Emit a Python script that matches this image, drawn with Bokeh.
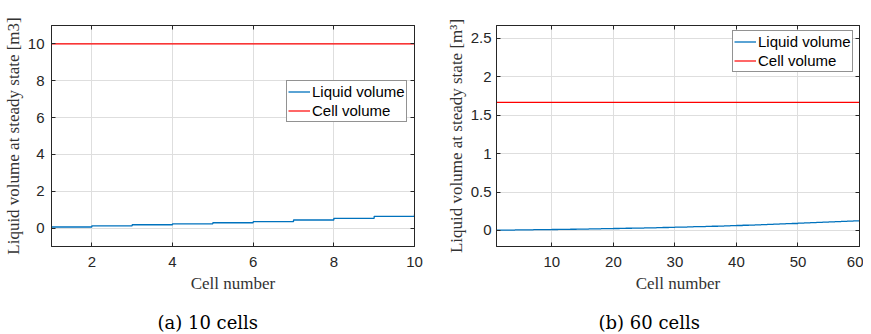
from bokeh.plotting import figure
from bokeh.layouts import row
from bokeh.models import Range1d, FixedTicker, LinearAxis, Legend, LegendItem, Title
from bokeh.embed import file_html
from bokeh.resources import INLINE

# ---- data: 10 cells ----
cells_10 = list(range(1, 11))
liquid_10 = [0.06, 0.12, 0.18, 0.23, 0.29, 0.35, 0.44, 0.53, 0.64, 0.75]
cellvol_10 = [10.0] * 10
xticks_10 = [2, 4, 6, 8, 10]
yticks_10 = [0, 2, 4, 6, 8, 10]
ylabels_10 = ["0", "2", "4", "6", "8", "10"]

# ---- data: 60 cells ----
cells_60 = list(range(1, 61))
liquid_60 = [0.004, 0.005, 0.006, 0.007, 0.008, 0.009, 0.010, 0.011, 0.012, 0.013,
             0.014, 0.015, 0.016, 0.018, 0.019, 0.020, 0.021, 0.023, 0.024, 0.026,
             0.027, 0.029, 0.030, 0.032, 0.033, 0.035, 0.037, 0.039, 0.041, 0.043,
             0.045, 0.047, 0.049, 0.051, 0.053, 0.055, 0.058, 0.060, 0.062, 0.065,
             0.068, 0.070, 0.073, 0.076, 0.079, 0.082, 0.085, 0.088, 0.091, 0.095,
             0.098, 0.101, 0.105, 0.108, 0.112, 0.115, 0.119, 0.122, 0.126, 0.130]
cellvol_60 = [1.6667] * 60
xticks_60 = [10, 20, 30, 40, 50, 60]
yticks_60 = [0, 0.5, 1, 1.5, 2, 2.5]
ylabels_60 = ["0", "0.5", "1", "1.5", "2", "2.5"]

BLUE = "#0072BD"
RED = "#FF0000"
DARK = "#262626"
SANS = "Liberation Sans"
SERIF = "Liberation Serif"


def make(cells, liquid, cellvol, xr, yr, xticks, yticks, ylabels, ylabel,
         mb_left, mb_right, tick_standoff, legend_loc, caption, cap_offset):
    p = figure(output_backend="svg", toolbar_location=None,
               frame_width=363, frame_height=221,
               min_border_left=mb_left, min_border_right=mb_right,
               min_border_top=25, min_border_bottom=88,
               x_range=Range1d(*xr), y_range=Range1d(*yr),
               background_fill_color="white", border_fill_color="white")
    p.outline_line_color = DARK
    p.outline_line_width = 1

    r_liq = p.step(cells, liquid, mode="after", line_color=BLUE, line_width=1.3)
    r_cell = p.line(cells, cellvol, line_color=RED, line_width=1.2)

    # main axes
    p.xaxis.ticker = FixedTicker(ticks=xticks)
    p.yaxis.ticker = FixedTicker(ticks=yticks)
    p.yaxis.major_label_overrides = {t: s for t, s in zip(yticks, ylabels)}
    for ax in (p.xaxis[0], p.yaxis[0]):
        ax.axis_line_color = DARK
        ax.major_tick_line_color = DARK
        ax.major_tick_in = 4
        ax.major_tick_out = 0
        ax.minor_tick_line_color = None
        ax.major_label_text_font = SANS
        ax.major_label_text_font_size = "15px"
        ax.major_label_text_color = DARK
        ax.axis_label_text_font = SERIF
        ax.axis_label_text_font_size = "17px"
        ax.axis_label_text_font_style = "normal"
        ax.axis_label_text_color = "#333333"
    p.xaxis.axis_label = "Cell number"
    p.xaxis.major_label_standoff = 10
    p.xaxis.axis_label_standoff = 4
    p.yaxis.axis_label = ylabel
    p.yaxis.major_label_standoff = tick_standoff
    p.yaxis.axis_label_standoff = 2

    # box ticks on top and right
    for loc, ticks in (("above", xticks), ("right", yticks)):
        ax = LinearAxis(ticker=FixedTicker(ticks=ticks),
                        major_label_overrides={t: "" for t in ticks},
                        major_label_standoff=0,
                        axis_line_color=DARK, major_tick_line_color=DARK,
                        major_tick_in=4, major_tick_out=0,
                        minor_tick_line_color=None)
        p.add_layout(ax, loc)

    p.xgrid.grid_line_color = "#dedede"
    p.ygrid.grid_line_color = "#dedede"

    legend = Legend(items=[LegendItem(label="Liquid volume", renderers=[r_liq]),
                           LegendItem(label="Cell volume", renderers=[r_cell])],
                    location=legend_loc, padding=1, spacing=0,
                    label_height=19, glyph_height=19, glyph_width=22,
                    label_standoff=2, label_text_font=SANS,
                    label_text_font_size="15px", label_text_color="black",
                    border_line_color=DARK, border_line_width=1,
                    background_fill_color="white", background_fill_alpha=1.0)
    p.add_layout(legend, "center")

    p.add_layout(Title(text=caption, align="left", offset=cap_offset, standoff=28,
                       text_font="DejaVu Serif", text_font_size="18px",
                       text_font_style="normal", text_color="black"), "below")
    return p


p1 = make(cells_10, liquid_10, cellvol_10, (1, 10), (-1, 11), xticks_10, yticks_10,
          ylabels_10, "Liquid volume at steady state [m3]", 43, 21, 7, (235, 124),
          "(a) 10 cells", 106)
p2 = make(cells_60, liquid_60, cellvol_60, (1, 60), (-0.2083, 2.6667), xticks_60,
          yticks_60, ylabels_60, "Liquid volume at steady state [m³]", 61, 4, 5,
          (236, 174), "(b) 60 cells", 102)

layout = row(p1, p2, spacing=0)
open("out.html", "w").write(file_html(layout, INLINE))
